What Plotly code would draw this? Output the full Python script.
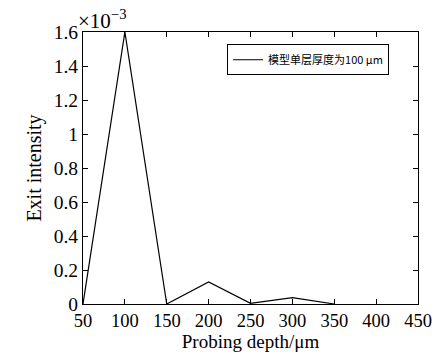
import plotly.graph_objects as go

depth = [50, 100, 150, 200, 250, 300, 350]
intensity = [0.0, 1.6e-3, 0.0, 0.13e-3, 0.004e-3, 0.038e-3, 0.0]
x_ticks = [50, 100, 150, 200, 250, 300, 350, 400, 450]
y_ticks = [0, 0.2, 0.4, 0.6, 0.8, 1.0, 1.2, 1.4, 1.6]
y_tick_labels = ["0", "0.2", "0.4", "0.6", "0.8", "1", "1.2", "1.4", "1.6"]
series_name = "模型单层厚度为100 μm"

scale = 1e-3
y_scaled = [v / scale for v in intensity]

serif = "Liberation Serif, Times New Roman, serif"

fig = go.Figure()
fig.add_trace(go.Scatter(
    x=depth, y=y_scaled, mode="lines", name=series_name,
    line=dict(color="black", width=1.2),
))

fig.update_layout(
    width=444, height=360,
    margin=dict(l=83, r=14, t=32, b=56),
    paper_bgcolor="white", plot_bgcolor="white",
    font=dict(family=serif, color="black", size=19),
    showlegend=True,
    legend=dict(
        x=0.43, y=0.955, xanchor="left", yanchor="top",
        bordercolor="black", borderwidth=1, bgcolor="white",
        font=dict(family="Noto Sans CJK SC, " + serif, size=11),
        itemwidth=30, tracegroupgap=0,
    ),
    xaxis=dict(
        range=[50, 450], tickvals=x_ticks,
        ticks="inside", ticklen=5, tickwidth=1, tickcolor="black",
        showline=True, linecolor="black", linewidth=1, mirror="ticks",
        showgrid=False, zeroline=False,
        tickfont=dict(size=18.5, family=serif),
        title=dict(text="Probing depth/μm", font=dict(size=19, family=serif), standoff=2),
    ),
    yaxis=dict(
        range=[0, 1.6], tickvals=y_ticks, ticktext=y_tick_labels,
        ticks="inside", ticklen=5, tickwidth=1, tickcolor="black",
        showline=True, linecolor="black", linewidth=1, mirror="ticks",
        showgrid=False, zeroline=False,
        tickfont=dict(size=19.5, family=serif),
        title=dict(text="Exit intensity", font=dict(size=20, family=serif), standoff=6),
    ),
    annotations=[dict(
        x=0, y=1, xref="paper", yref="paper", xanchor="left", yanchor="bottom",
        xshift=-7, yshift=-3, showarrow=False,
        text="×10<sup>−3</sup>", font=dict(size=21, family=serif),
    )],
)

fig.write_html("out.html")
